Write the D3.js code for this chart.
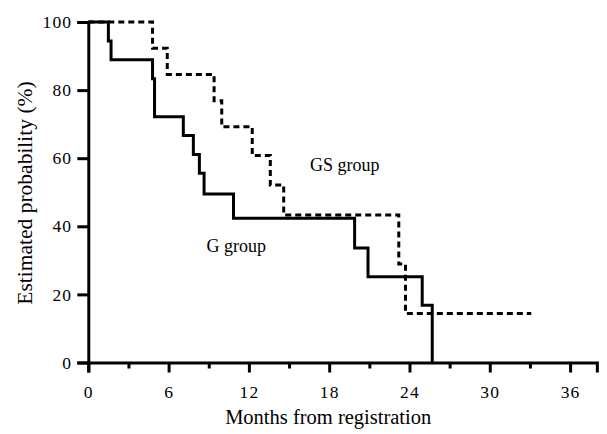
<!DOCTYPE html>
<html>
<head>
<meta charset="utf-8">
<script src="https://cdn.jsdelivr.net/npm/d3@7"></script>
<style>
  body { margin: 0; background: #fff; }
  svg text { font-family: "Liberation Serif", "Times New Roman", serif !important; fill: #000; }
</style>
</head>
<body>
<div id="chart"></div>
<script>
// Kaplan-Meier estimates
const gTimes  = [0, 1.5, 1.7, 4.8, 4.95, 7.1, 7.85, 8.3, 8.65, 10.85, 19.9, 20.9, 24.95, 25.7];
const gSurv   = [100, 94.4, 88.9, 83.3, 72.2, 66.7, 61.1, 55.6, 49.5, 42.4, 33.6, 25.2, 16.8, 0];
const gsTimes = [0, 4.8, 5.9, 9.4, 9.97, 12.25, 13.6, 14.6, 23.2, 23.7, 33.1];
const gsSurv  = [100, 92.3, 84.6, 76.9, 69.2, 60.8, 52.1, 43.3, 28.9, 14.4, 14.4];

const xTicks = [0, 3, 6, 9, 12, 15, 18, 21, 24, 27, 30, 33, 36];
const yTicks = [0, 20, 40, 60, 80, 100];

const width = 607, height = 434,
    margin = ({ top: 22, right: 10, bottom: 71.5, left: 88.3 });

let svg = d3.select("#chart")
    .append("svg")
    .attr("width", width)
    .attr("height", height);

let x = d3.scaleLinear()
    .domain([0, 38])
    .range([margin.left, margin.left + 38 * 13.383]);

let y = d3.scaleLinear()
    .domain([0, 100])
    .range([height - margin.bottom, margin.top]);

// x axis: long ticks every 6 months, short ones at 3
let xAxis = svg.append("g")
    .attr("transform", `translate(0,${y(0)})`)
    .call(d3.axisBottom(x).tickValues(xTicks).tickSizeOuter(0)
        .tickSize(10).tickPadding(13)
        .tickFormat(d => d % 6 === 0 ? d : ""));

xAxis.selectAll(".tick line")
    .attr("stroke-width", 3)
    .attr("y2", d => d % 6 === 0 ? 10 : 6);

let yAxis = svg.append("g")
    .attr("transform", `translate(${x(0)},0)`)
    .call(d3.axisLeft(y).tickValues(yTicks).tickSizeOuter(0)
        .tickSize(11).tickPadding(5));

yAxis.selectAll(".tick line").attr("stroke-width", 3);

svg.selectAll(".domain")
    .attr("stroke", "#000")
    .attr("stroke-width", 3);

svg.selectAll("g").attr("font-family", null).attr("font-size", null);

svg.selectAll(".tick text")
    .style("font-family", "'Liberation Serif', serif")
    .style("font-size", "17.5px")
    .attr("letter-spacing", 1.2)
    .style("fill", "#000");

yAxis.selectAll(".tick text").attr("dy", "0.32em");

let line = d3.line()
    .x(d => x(d[0]))
    .y(d => y(d[1]))
    .curve(d3.curveStepAfter);

svg.append("path")
    .datum(d3.zip(gsTimes, gsSurv))
    .attr("fill", "none")
    .attr("stroke", "#000")
    .attr("stroke-width", 3)
    .attr("stroke-dasharray", "6,4")
    .attr("d", line);

svg.append("path")
    .datum(d3.zip(gTimes, gSurv))
    .attr("fill", "none")
    .attr("stroke", "#000")
    .attr("stroke-width", 3)
    .attr("d", line);

// group labels
svg.append("text")
    .attr("x", 310)
    .attr("y", 171)
    .style("font-size", "18px")
    .text("GS group");

svg.append("text")
    .attr("x", 206.5)
    .attr("y", 252)
    .style("font-size", "18px")
    .text("G group");

svg.append("text")
    .attr("class", "x-label")
    .attr("text-anchor", "middle")
    .attr("x", x(18) - 1)
    .attr("y", 424)
    .style("font-size", "20.5px")
    .text("Months from registration");

svg.append("text")
    .attr("class", "y-label")
    .attr("text-anchor", "middle")
    .attr("transform", `translate(32,${193}) rotate(-90)`)
    .style("font-size", "21.5px")
    .text("Estimated probability (%)");
</script>
</body>
</html>
